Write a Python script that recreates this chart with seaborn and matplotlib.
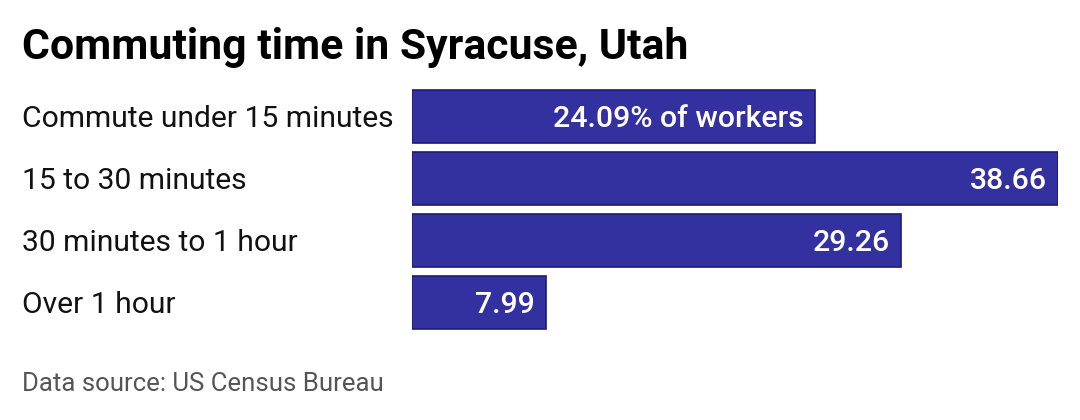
import matplotlib
matplotlib.use("Agg")
import matplotlib.pyplot as plt
import pandas as pd
import seaborn as sns

categories = ["Commute under 15 minutes", "15 to 30 minutes",
              "30 minutes to 1 hour", "Over 1 hour"]
shares = [24.09, 38.66, 29.26, 7.99]
value_labels = ["24.09% of workers", "38.66", "29.26", "7.99"]

df = pd.DataFrame({"category": categories, "share": shares})

sns.set_theme(style="white")
plt.rcParams["font.family"] = ["Roboto", "DejaVu Sans"]

fig = plt.figure(figsize=(10.8, 4.2), dpi=100)
ax = fig.add_axes([412 / 1080, 1 - 333.5 / 420, 646 / 1080, 248 / 420])

sns.barplot(data=df, x="share", y="category", color="#3330a0",
            edgecolor="#1c1a7a", linewidth=1.2, width=0.855, saturation=1, ax=ax)

ax.set_xlim(0, max(shares))
ax.set_ylim(3.5, -0.5)
ax.set_xlabel("")
ax.set_ylabel("")
ax.set_xticks([])
ax.tick_params(axis="y", length=0, pad=0)
ax.set_yticklabels([])
sns.despine(ax=ax, left=True, bottom=True)

for i, (v, lab) in enumerate(zip(shares, value_labels)):
    ax.annotate(lab, xy=(v, i), xytext=(-8, -1.5), textcoords="offset points",
                ha="right", va="center", color="white", fontsize=21.8,
                fontweight=500)
    ax.annotate(categories[i], xy=(0, i), xycoords=("figure fraction", "data"),
                xytext=(22 * 0.72, -2), textcoords="offset points",
                ha="left", va="center", color="#111111", fontsize=21.6)

fig.text(22 / 1080, 1 - 47 / 420, "Commuting time in Syracuse, Utah",
         fontsize=30.8, fontweight="bold", color="#000000", ha="left", va="center")
fig.text(22 / 1080, 1 - 384 / 420, "Data source: US Census Bureau",
         fontsize=18.5, color="#555555", ha="left", va="center")

fig.savefig("out.png", dpi=100)
